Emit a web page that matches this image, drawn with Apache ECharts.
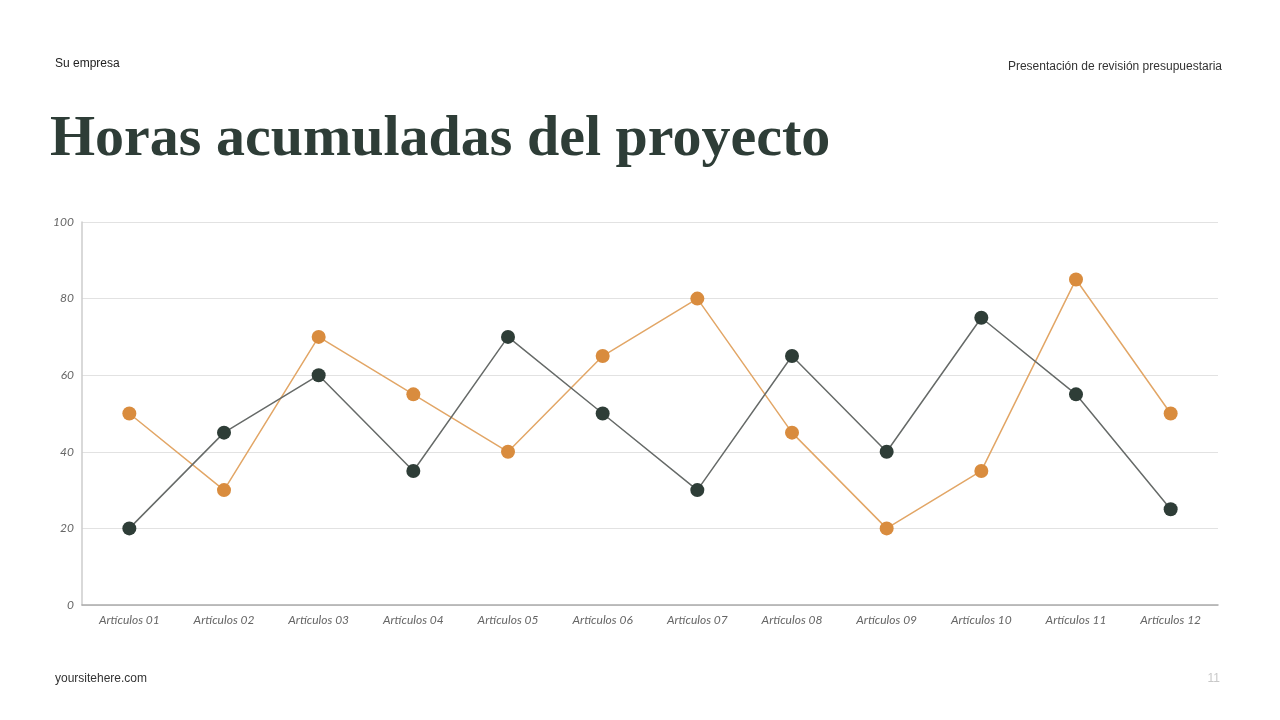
<!DOCTYPE html>
<html><head><meta charset="utf-8">
<script src="https://cdn.jsdelivr.net/npm/echarts@6/dist/echarts.min.js"></script>
<style>html,body{margin:0;padding:0;background:#fff}#c{width:1280px;height:720px}</style>
</head><body><div id="c"></div>
<script>
const categories = ["Artículos 01","Artículos 02","Artículos 03","Artículos 04","Artículos 05","Artículos 06","Artículos 07","Artículos 08","Artículos 09","Artículos 10","Artículos 11","Artículos 12"];
const seriesDark = [20,45,60,35,70,50,30,65,40,75,55,25];
const seriesOrange = [50,30,70,55,40,65,80,45,20,35,85,50];
const yTicks = [0,20,40,60,80,100];

const chart = echarts.init(document.getElementById('c'));
chart.setOption({
  backgroundColor:'#fff',
  animation:false,
  title:[
    {text:'Su empresa',left:55,top:58,padding:0,textStyle:{fontFamily:'Liberation Sans',fontSize:12,fontWeight:'normal',color:'#222'}},
    {text:'Presentación de revisión presupuestaria',right:58,top:61,padding:0,textStyle:{fontFamily:'Liberation Sans',fontSize:12,fontWeight:'normal',color:'#333'}},
    {text:'Horas acumuladas del proyecto',left:50,top:111,padding:0,textStyle:{fontFamily:'Liberation Serif',fontSize:58,fontWeight:'bold',color:'#2e3d37'}},
    {text:'yoursitehere.com',left:55,top:673,padding:0,textStyle:{fontFamily:'Liberation Sans',fontSize:12,fontWeight:'normal',color:'#333'}},
    {text:'11',right:60,top:673,padding:0,textStyle:{fontFamily:'Liberation Sans',fontSize:12,fontWeight:'normal',color:'#c8c8c8'}}
  ],
  grid:{left:82,right:62,top:222,bottom:115,containLabel:false},
  xAxis:{type:'category',data:categories,boundaryGap:true,
    axisLine:{lineStyle:{color:'#aaa',width:1.5}},axisTick:{show:false},
    axisLabel:{fontFamily:'Lato',fontStyle:'italic',fontSize:12,color:'#666',margin:9}},
  yAxis:{type:'value',min:0,max:100,interval:20,
    axisLine:{show:true,lineStyle:{color:'#ccc',width:1.5}},axisTick:{show:false},
    splitLine:{lineStyle:{color:'#e2e2e2',width:1}},
    axisLabel:{fontFamily:'Lato',fontStyle:'italic',fontSize:12,color:'#666',margin:8,verticalAlign:'middle',padding:[0,0,3,0],
      formatter:v=>yTicks.includes(v)?String(v):''}},
  series:[
    {type:'line',data:seriesDark,symbol:'circle',symbolSize:14,
      lineStyle:{color:'#666a68',width:1.5},itemStyle:{color:'#2e3d37'},z:3},
    {type:'line',data:seriesOrange,symbol:'circle',symbolSize:14,
      lineStyle:{color:'#e2a666',width:1.5},itemStyle:{color:'#d98c3e'},z:2}
  ]
});
</script></body></html>
